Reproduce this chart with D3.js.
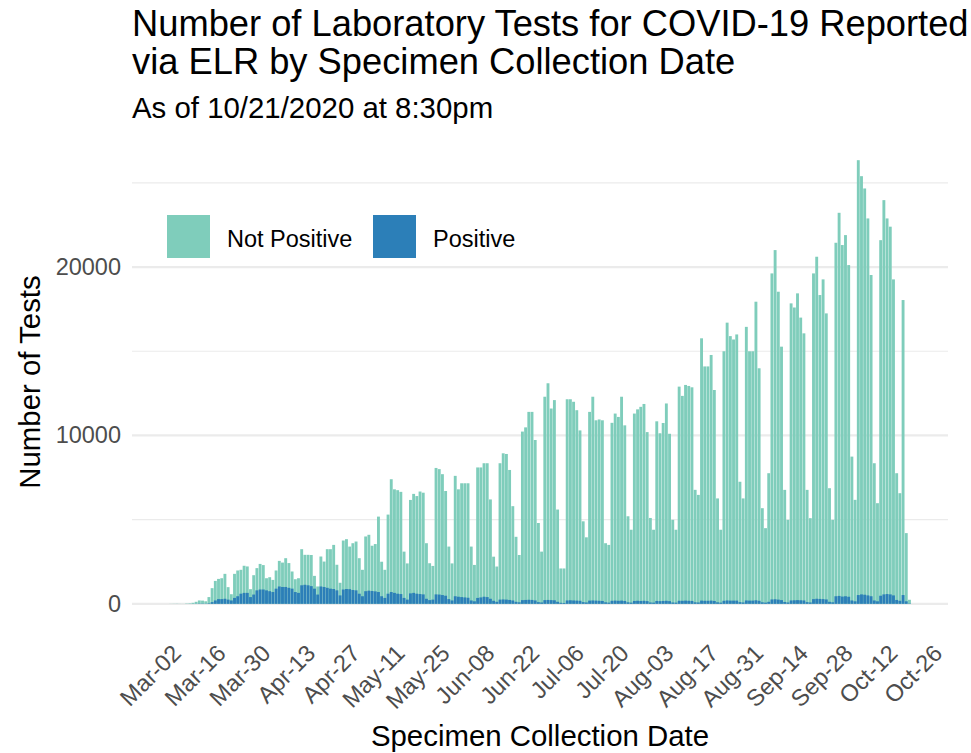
<!DOCTYPE html>
<html lang="en">
<head>
<meta charset="utf-8">
<title>Laboratory Tests for COVID-19 by Specimen Collection Date</title>
<style>
  html, body {margin: 0; padding: 0; background: #fff; overflow: hidden}
  text {font-family: "Liberation Sans", Arial, sans-serif}
</style>
</head>
<body>
<svg width="971" height="753"></svg>
<script src="https://d3js.org/d3.v7.min.js"></script>
<script>

// one value per specimen collection day, starting on firstDay
var firstDay = "2020-03-04";

var totalTests = [
  5, 8, 10, 6, 4,
  20, 30, 60, 120, 200, 190, 150,
  400, 930, 1360, 1480, 1520, 1780, 990,
  570, 1780, 1980, 2020, 2260, 2220, 870,
  1700, 2120, 2370, 2300, 1520, 1580, 1420,
  1980, 2550, 2450, 2710, 2420, 1920, 1460,
  1520, 3245, 2910, 2910, 2900, 1660, 1030,
  2810, 2510, 3245, 3245, 3500, 2320, 1250,
  3760, 3840, 3400, 3600, 3700, 2710, 2020,
  4000, 4100, 3450, 3550, 5180, 2500, 2020,
  5300, 7400, 6800, 6750, 6650, 3100, 2400,
  6170, 6530, 6400, 6670, 6600, 3600, 2410,
  2250, 8070, 8000, 7700, 6700, 3400, 2400,
  7600, 6800, 7160, 7160, 7160, 3400, 2310,
  8100, 8100, 8350, 8350, 6200, 2800, 2215,
  8350, 8940, 8900, 7950, 5800, 3980, 2900,
  10230, 10480, 11400, 11400, 9730, 4800, 3100,
  12300, 13100, 11600, 12100, 5600, 2100, 2100,
  12150, 12150, 12000, 11500, 10300, 4900, 3950,
  11400, 12300, 10900, 10950, 10900, 3600, 3500,
  10750, 11300, 11100, 12300, 10600, 5200, 4400,
  11300, 11550, 11700, 11870, 10200, 5100, 4400,
  10840, 10130, 10740, 11900, 10100, 4990, 4400,
  12900, 12350, 13000, 12940, 12860, 6770, 6470,
  15770, 14100, 14100, 14780, 12700, 6260, 4400,
  15000, 16700, 15900, 15700, 16000, 7250, 6260,
  16450, 15000, 15000, 17944, 13990, 5680, 4494,
  7757, 19625, 21010, 18537, 15274, 6768, 4988,
  17845, 17600, 18440, 17000, 16065, 6768, 5087,
  19625, 20615, 18340, 19270, 17250, 6867, 4988,
  21445, 23225, 21310, 21900, 20120, 8744, 6175,
  26350, 25400, 24670, 22890, 19530, 8350, 5977,
  21600, 23977, 22890, 22400, 19270, 7757, 6570,
  18043, 4200, 240
];

var positiveTests = [
  0, 0, 1, 0, 0,
  1, 2, 4, 8, 15, 15, 10,
  30, 100, 200, 280, 280, 300, 250,
  200, 350, 450, 600, 650, 650, 400,
  550, 800, 850, 850, 800, 750, 700,
  900, 1030, 1000, 1000, 950, 900, 700,
  650, 1100, 1130, 1100, 1050, 900, 550,
  1030, 1000, 950, 900, 880, 800, 500,
  850, 880, 870, 820, 800, 600, 450,
  750, 780, 760, 740, 700, 450, 350,
  600, 700, 650, 600, 580, 350, 250,
  620, 650, 600, 580, 560, 300, 220,
  250, 560, 550, 520, 480, 280, 200,
  450, 420, 400, 380, 360, 200, 150,
  350, 380, 420, 400, 300, 180, 120,
  250, 260, 250, 230, 200, 120, 90,
  220, 230, 240, 230, 200, 100, 80,
  220, 230, 220, 210, 120, 60, 50,
  200, 210, 200, 190, 180, 100, 80,
  190, 200, 190, 180, 170, 90, 70,
  180, 190, 180, 190, 170, 90, 70,
  170, 180, 170, 180, 160, 80, 70,
  170, 160, 170, 180, 160, 80, 70,
  180, 180, 190, 180, 170, 90, 80,
  190, 180, 180, 190, 170, 90, 70,
  180, 200, 190, 190, 190, 100, 80,
  200, 190, 190, 210, 180, 90, 70,
  120, 260, 270, 250, 220, 110, 80,
  200, 210, 220, 210, 200, 100, 80,
  280, 300, 290, 280, 260, 120, 90,
  450, 470, 430, 450, 420, 200, 150,
  520, 560, 540, 500, 450, 200, 150,
  480, 560, 580, 560, 500, 230, 180,
  520, 150, 20
];

var xTickDates = ["2020-03-02", "2020-03-16", "2020-03-30", "2020-04-13", "2020-04-27",
  "2020-05-11", "2020-05-25", "2020-06-08", "2020-06-22", "2020-07-06", "2020-07-20",
  "2020-08-03", "2020-08-17", "2020-08-31", "2020-09-14", "2020-09-28", "2020-10-12",
  "2020-10-26"];
var yMajor = [0, 10000, 20000];
var yMinor = [5000, 15000, 25000];

var seriesNames = ["Not Positive", "Positive"];
var seriesColors = ["#7fcdbb", "#2c7fb8"];

var svg = d3.select("svg"),
    panel = {left: 132, right: 948, top: 138, bottom: 626};

var parse = d3.utcParse("%Y-%m-%d"),
    start = parse(firstDay),
    dayMs = 864e5,
    half = 0.45 * dayMs;

var rows = totalTests.map(function(t, i) {
  return {date: d3.utcDay.offset(start, i), total: t, positive: positiveTests[i]};
});

// ggplot style: 5% expansion around the bar extents
var x0 = rows[0].date.getTime() - half,
    x1 = rows[rows.length - 1].date.getTime() + half,
    pad = (x1 - x0) * 0.05;
var x = d3.scaleUtc()
    .domain([new Date(x0 - pad), new Date(x1 + pad)])
    .range([panel.left, panel.right]);

var ymax = d3.max(rows, function(d) { return d.total; });
var y = d3.scaleLinear()
    .domain([-0.05 * ymax, 1.05 * ymax])
    .range([panel.bottom, panel.top]);

// grid
svg.append("g").selectAll("line")
  .data(yMinor).join("line")
    .attr("x1", panel.left).attr("x2", panel.right)
    .attr("y1", y).attr("y2", y)
    .attr("stroke", "#ebebeb").attr("stroke-width", 1.2);
svg.append("g").selectAll("line")
  .data(yMajor).join("line")
    .attr("x1", panel.left).attr("x2", panel.right)
    .attr("y1", y).attr("y2", y)
    .attr("stroke", "#ebebeb").attr("stroke-width", 2.2);

function barX(d) { return x(new Date(d.date.getTime() - half)); }
function barW(d) { return x(new Date(d.date.getTime() + half)) - barX(d); }

svg.append("g").selectAll("rect")
  .data(rows).join("rect")
    .attr("x", barX)
    .attr("width", barW)
    .attr("y", function(d) { return y(d.total); })
    .attr("height", function(d) { return y(0) - y(d.total); })
    .attr("fill", seriesColors[0]);

svg.append("g").selectAll("rect")
  .data(rows).join("rect")
    .attr("x", barX)
    .attr("width", barW)
    .attr("y", function(d) { return y(d.positive); })
    .attr("height", function(d) { return y(0) - y(d.positive); })
    .attr("fill", seriesColors[1]);

// axes
var yAxis = svg.append("g")
    .attr("transform", "translate(" + panel.left + ",0)")
    .call(d3.axisLeft(y).tickValues(yMajor).tickFormat(d3.format("d")).tickSize(0).tickPadding(11));
yAxis.select(".domain").remove();
yAxis.selectAll("text")
    .attr("fill", "#4d4d4d")
    .style("font-size", "23.5px");

var xAxis = svg.append("g")
    .attr("transform", "translate(0," + panel.bottom + ")")
    .call(d3.axisBottom(x).tickValues(xTickDates.map(parse))
      .tickFormat(d3.utcFormat("%b-%d")).tickSize(0));
xAxis.select(".domain").remove();
xAxis.selectAll("text")
    .attr("x", 0).attr("y", 0)
    .attr("dy", "0.71em")
    .attr("text-anchor", "end")
    .attr("transform", "translate(6,17) rotate(-45)")
    .attr("fill", "#4d4d4d")
    .style("font-size", "23.5px");

// titles
svg.append("text")
    .attr("x", 132).attr("y", 36)
    .style("font-size", "36.3px")
    .text("Number of Laboratory Tests for COVID-19 Reported");
svg.append("text")
    .attr("x", 132).attr("y", 74)
    .style("font-size", "36.3px")
    .text("via ELR by Specimen Collection Date");
svg.append("text")
    .attr("x", 132).attr("y", 118)
    .style("font-size", "29.4px")
    .text("As of 10/21/2020 at 8:30pm");

svg.append("text")
    .attr("x", (panel.left + panel.right) / 2).attr("y", 746)
    .attr("text-anchor", "middle")
    .style("font-size", "29.4px")
    .text("Specimen Collection Date");
svg.append("text")
    .attr("transform", "translate(40," + ((panel.top + panel.bottom) / 2) + ") rotate(-90)")
    .attr("text-anchor", "middle")
    .style("font-size", "29.4px")
    .text("Number of Tests");

// legend
var legendX = [167, 373];
var legend = svg.append("g").selectAll("g")
  .data(seriesNames).join("g")
    .attr("transform", function(d, i) { return "translate(" + legendX[i] + ",215)"; });
legend.append("rect")
    .attr("width", 43).attr("height", 43)
    .attr("fill", function(d, i) { return seriesColors[i]; });
legend.append("text")
    .attr("x", 60).attr("y", 24)
    .attr("dy", "0.35em")
    .style("font-size", "23.5px")
    .text(function(d) { return d; });

</script>
</body>
</html>
